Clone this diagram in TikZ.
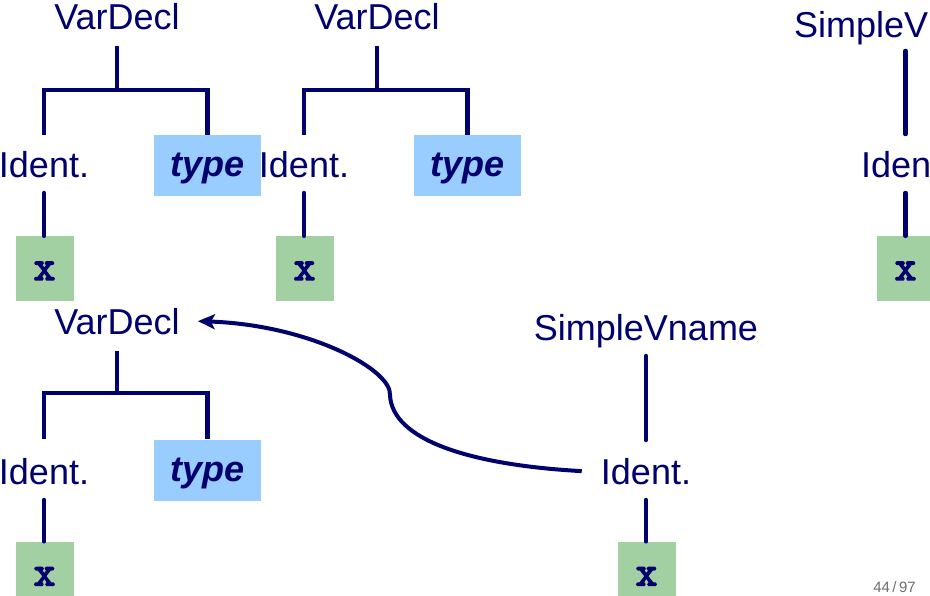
\documentclass[tikz,border=0pt]{standalone}
\usepackage{fontspec}
\setmainfont{Liberation Sans}
\newfontfamily\courb[FakeBold=3.5]{Latin Modern Mono}
\usetikzlibrary{arrows.meta,calc}
\definecolor{navy}{RGB}{0,0,110}
\definecolor{typebg}{RGB}{153,204,255}
\definecolor{xbg}{RGB}{163,208,163}
\definecolor{pgnum}{RGB}{110,110,110}
\begin{document}
\begin{tikzpicture}[x=1pt,y=-1pt,
  lab/.style={text=navy,font=\fontsize{36}{40}\selectfont,inner sep=0pt,anchor=base},
  typebox/.style={fill=typebg,text=navy,font=\fontsize{36}{40}\selectfont\bfseries\itshape,minimum width=107pt,minimum height=61pt,inner sep=0pt,text height=23pt,text depth=0pt},
  xbox/.style={fill=xbg,text=navy,font=\fontsize{42}{44}\selectfont\courb,minimum width=58pt,minimum height=65pt,inner sep=0pt,text height=23pt,text depth=0pt},
  edge/.style={draw=navy,line width=4.5pt,line cap=round},
  bracket/.style={draw=navy,line width=4.5pt,line cap=butt,line join=miter},
  arr/.style={draw=navy,line width=4pt,-{Stealth[length=17pt,width=15pt,inset=4pt]}}]
\useasboundingbox (0,0) rectangle (930,596);

% Tree 1
\node[lab] (vd1) at (117,30) {VarDecl};
\node[lab] (id1) at (44,178) {Ident.};
\node[typebox] (ty1) at (207.5,165.5) {type};
\node[xbox] (x1) at (44.5,268.5) {x};
\coordinate (j1) at ($(vd1.base)+(0,60)$);
\draw[bracket] (vd1.base) ++(0,16) -- (j1);
\draw[bracket] (id1.base |- ty1.north) -- (id1.base |- j1) -- (ty1.north |- j1) -- (ty1.north);
\draw[edge] ($(id1.base)+(0,15)$) -- (id1.base |- x1.north);

% Tree 2
\node[lab] (vd2) at (377,30) {VarDecl};
\node[lab] (id2) at (304,178) {Ident.};
\node[typebox] (ty2) at (467.5,165.5) {type};
\node[xbox] (x2) at (304.5,268.5) {x};
\coordinate (j2) at ($(vd2.base)+(0,60)$);
\draw[bracket] (vd2.base) ++(0,16) -- (j2);
\draw[bracket] (id2.base |- ty2.north) -- (id2.base |- j2) -- (ty2.north |- j2) -- (ty2.north);
\draw[edge] ($(id2.base)+(0,15)$) -- (id2.base |- x2.north);

% Tree 3 (cut off at the right edge)
\node[lab,anchor=base west] (sv3) at (794,38) {SimpleV};
\node[lab,anchor=base west] (id3) at (861,178) {Iden};
\node[xbox] (x3) at (905.5,268.5) {x};
\draw[edge] ($(x3.north |- sv3.base)+(0,13)$) -- ($(x3.north |- id3.base)+(0,-44)$);
\draw[edge] ($(x3.north |- id3.base)+(0,15)$) -- (x3.north);

% Tree 4
\node[lab] (vd4) at (117,335) {VarDecl};
\node[lab] (id4) at (44,484) {Ident.};
\node[typebox] (ty4) at (207.5,470) {type};
\node[xbox] (x4) at (44.5,574) {x};
\coordinate (j4) at ($(vd4.base)+(0,58)$);
\draw[bracket] (vd4.base) ++(0,16) -- (j4);
\draw[bracket] (id4.base |- ty4.north) -- (id4.base |- j4) -- (ty4.north |- j4) -- (ty4.north);
\draw[edge] ($(id4.base)+(0,16)$) -- (id4.base |- x4.north);

% Tree 5
\node[lab] (sv5) at (646,341) {SimpleVname};
\node[lab] (id5) at (646,484) {Ident.};
\node[xbox] (x5) at (646.5,574) {x};
\draw[edge] ($(sv5.base)+(0,15)$) -- ($(id5.base)+(0,-44)$);
\draw[edge] ($(id5.base)+(0,16)$) -- (id5.base |- x5.north);

% Binding arrow
\draw[arr] ($(id5.west)+(-19,0)$) .. controls (470,465) and (392,440) .. (390,395)
  .. controls (392,370) and (310,325) .. ($(vd4.east)+(18,-1)$);

% Page number
\node[text=pgnum,font=\fontsize{15}{18}\selectfont,anchor=base east,inner sep=0pt] (pg) at (916,592) {44\,/\,97};
\end{tikzpicture}
\end{document}
